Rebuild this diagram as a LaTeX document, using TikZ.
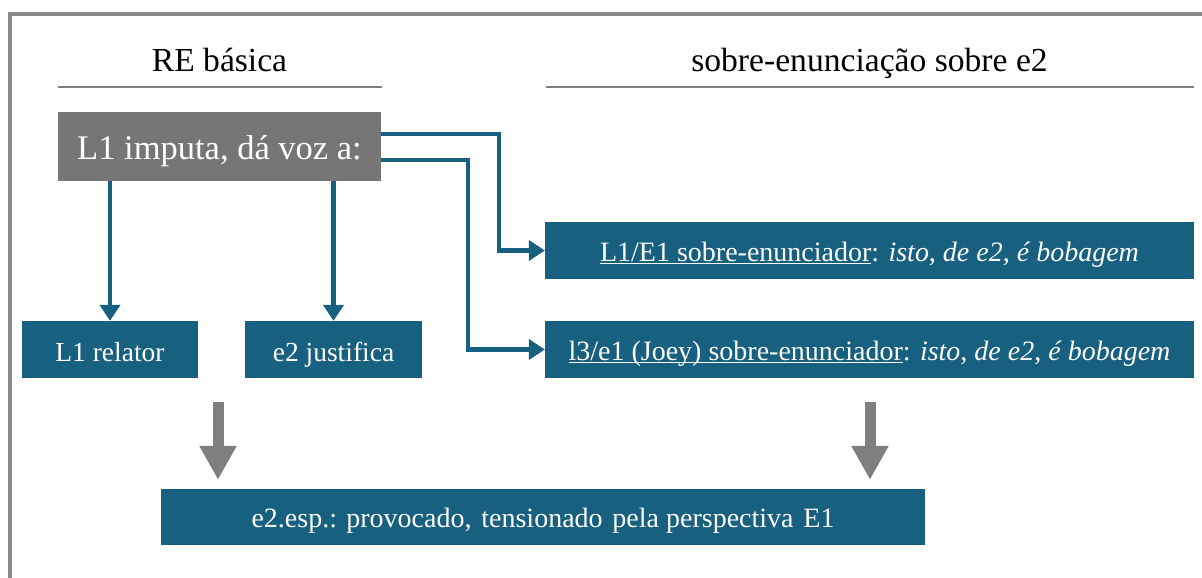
\documentclass[tikz,border=0pt]{standalone}
\usepackage{fontspec}
\setmainfont{Liberation Serif}
\usetikzlibrary{arrows.meta,calc}
\definecolor{boxblue}{HTML}{17607F}
\definecolor{boxgray}{HTML}{767676}
\definecolor{arrgray}{HTML}{7F7F7F}
\definecolor{framegray}{HTML}{8A8A8A}
\newcommand\ulx[1]{\setbox0\hbox{#1}\rlap{\rule[-3pt]{\wd0}{1.2pt}}\box0}
\begin{document}
\begin{tikzpicture}[x=1pt,y=-1pt,
  bluebox/.style={fill=boxblue,text=white,inner sep=0pt,minimum height=57pt,text height=21pt,text depth=0pt,font=\fontsize{28}{32}\selectfont},
  smallbox/.style={bluebox,minimum width=176pt,text height=23pt,font=\fontsize{27.5}{31}\selectfont},
  widebox/.style={bluebox,minimum width=649pt},
  titletext/.style={font=\fontsize{33.6}{38}\selectfont,text=black,inner sep=0pt,anchor=base},
  titleline/.style={draw=arrgray,line width=2pt},
  blueconn/.style={draw=boxblue,line width=4.5pt,-{Triangle[width=20pt,length=16pt]}},
  bigarrow/.style={draw=arrgray,line width=11pt,-{Triangle[width=35pt,length=34pt]}}
]
\useasboundingbox (0,0) rectangle (1202,578);
% frame
\draw[framegray,line width=4.5pt] (10,578) -- (10,14) -- (1202,14);
% titles
\node[titletext] (t1) at (219.5,71) {RE básica};
\node[titletext] (t2) at (869.5,71) {sobre-enunciação sobre e2};
\draw[titleline] (58,87) -- (382,87);
\draw[titleline] (546,87) -- (1194,87);
% source
\node[fill=boxgray,text=white,inner sep=0pt,minimum width=323pt,minimum height=69pt,
  text height=25pt,text depth=0pt,font=\fontsize{34.5}{40}\selectfont] (src) at (219.5,146.5) {L1 imputa, dá voz a:};
% boxes
\node[smallbox] (a) at (110,349.5) {L1 relator};
\node[smallbox,minimum width=177pt] (b) at (333.5,349.5) {e2 justifica};
\node[widebox] (c) at (869.5,250.5) {\ulx{L1/E1 sobre-enunciador}: \textit{isto}, \textit{de e2}, \textit{é bobagem}};
\node[widebox] (d) at (869.5,349.5) {\ulx{l3/e1 (Joey) sobre-enunciador}: \textit{isto}, \textit{de e2}, \textit{é bobagem}};
\node[bluebox,minimum width=764pt,minimum height=56pt] (e) at (543,517)
  {e2.esp.: provocado,\hspace{0.35em}tensionado\hspace{0.35em}pela perspectiva\hspace{0.35em}E1};
% blue connectors
\draw[blueconn] (src.south -| a.north) -- (a.north);
\draw[blueconn] (src.south -| b.north) -- (b.north);
\draw[blueconn] ([yshift=12.5pt]src.east) -- ++(118,0) |- (c.west);
\draw[blueconn] ([yshift=-13.5pt]src.east) -- ++(87,0) |- (d.west);
% big gray arrows
\coordinate (g1) at (218,402);
\coordinate (g2) at (870,402);
\draw[bigarrow,shorten >=9pt] (g1) -- (g1 |- e.north);
\draw[bigarrow,shorten >=9pt] (g2) -- (g2 |- e.north);
\end{tikzpicture}
\end{document}
